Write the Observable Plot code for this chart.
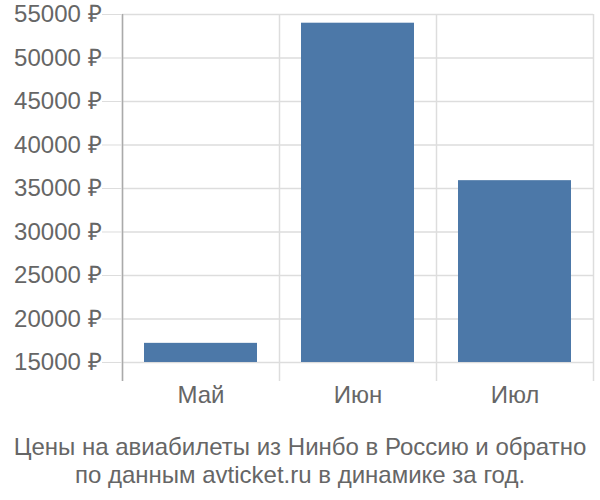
<!DOCTYPE html>
<html><head><meta charset="utf-8">
<script src="https://cdn.jsdelivr.net/npm/d3@7"></script>
<script src="https://cdn.jsdelivr.net/npm/@observablehq/plot@0.6"></script>
<style>
body{margin:0;background:#fff;font-family:"Liberation Sans",Arial,sans-serif;overflow:hidden;}
#cap{width:600px;text-align:center;color:#666;font-size:24px;line-height:28px;margin-top:13px;}
svg{display:block}
#chart svg text{font-size:24px;}
</style></head><body>
<div id="chart"></div>
<div id="cap">Цены на авиабилеты из Нинбо в Россию и обратно<br>по данным avticket.ru в динамике за год.</div>
<script>
const months = ["Май","Июн","Июл"];
const prices = [17200, 54000, 35900];
const yTicks = [15000,20000,25000,30000,35000,40000,45000,50000,55000];
const data = months.map((m,i)=>({month:m, price:prices[i]}));
const step = (593-122)/3;
const chart = Plot.plot({
  width:600, height:420,
  marginLeft:122, marginRight:7, marginTop:14, marginBottom:39,
  style:{fontFamily:"Liberation Sans, Arial, sans-serif", fontSize:"24px", color:"#666", background:"#fff"},
  x:{domain:months, paddingInner:0.28, paddingOuter:0.14, label:null},
  y:{domain:[12814,55000], label:null},
  marks:[
    Plot.ruleY(yTicks,{y:d=>d, stroke:"#ddd", strokeWidth:1.5}),
    Plot.ruleX(months,{x:d=>d, dx:-step/2, stroke:"#ddd", strokeWidth:1.5}),
    Plot.ruleX([months[2]],{x:d=>d, dx:step/2, stroke:"#ddd", strokeWidth:1.5}),
    Plot.ruleX([months[0]],{x:d=>d, dx:-step/2, stroke:"#aaa", strokeWidth:1.5}),
    Plot.rectY(data,{x:"month", y1:15000, y2:"price", fill:"#4c78a8"}),
    Plot.axisY({ticks:yTicks, tickFormat:d=>d+" ₽", tickSize:20, tickPadding:1, stroke:"#ddd", fill:"#666", fontSize:24, label:null}),
    Plot.axisX({tickSize:0, tickPadding:4, fill:"#666", fontSize:24, label:null})
  ]
});
document.getElementById("chart").appendChild(chart);
</script>
</body></html>
